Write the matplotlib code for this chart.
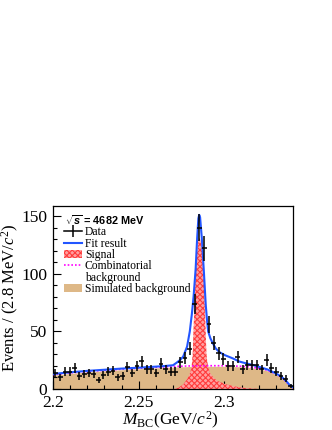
import numpy as np
import matplotlib
matplotlib.use('Agg')
import matplotlib.pyplot as plt
from matplotlib.lines import Line2D
from matplotlib.patches import Patch
from matplotlib.ticker import MultipleLocator

plt.rcParams['font.family'] = ['Liberation Serif', 'DejaVu Serif']
plt.rcParams['mathtext.fontset'] = 'custom'
plt.rcParams['mathtext.rm'] = 'Liberation Serif'
plt.rcParams['mathtext.it'] = 'Liberation Serif:italic'
plt.rcParams['mathtext.bf'] = 'Liberation Sans:bold'
plt.rcParams['mathtext.bfit'] = 'Liberation Sans:bold:italic'
plt.rcParams['hatch.linewidth'] = 0.8

# data: 50 bins of 2.8 MeV from 2.2 GeV
bin_width = 0.0028
counts = [14, 10, 15, 15, 18, 11, 13, 14, 13, 8, 12, 15, 16, 10, 11, 19, 14, 20, 24, 17,
          17, 14, 22, 17, 15, 15, 23, 27, 35, 74, 140, 122, 56, 40, 31, 26, 20, 20, 28, 17,
          21, 21, 21, 17, 25, 18, 15, 11, 9, 3]

# fit curves
fit_x = [2.200, 2.210, 2.220, 2.230, 2.240, 2.250, 2.260, 2.265, 2.270, 2.2721, 2.274,
         2.2759, 2.2782, 2.2798, 2.2810, 2.2820, 2.2832, 2.2841, 2.2848, 2.2853, 2.2858,
         2.2868, 2.2880, 2.2891, 2.2900, 2.2905, 2.2918, 2.2932, 2.2950, 2.2971, 2.3000,
         2.3048, 2.3087, 2.3120, 2.3160, 2.3200, 2.3250, 2.3300, 2.3330, 2.3360, 2.3380, 2.3400]
fit_y = [13.0, 14.5, 15.7, 16.7, 17.7, 18.5, 19.4, 19.9, 20.6, 22.8, 25.0,
         28.0, 36.7, 50.0, 65.0, 80.0, 104.0, 131.0, 148.0, 151.0, 149.0,
         131.0, 102.0, 73.0, 57.0, 50.0, 44.0, 39.7, 35.0, 32.0, 29.5,
         26.6, 23.8, 22.5, 21.0, 19.3, 17.0, 13.5, 11.0, 7.0, 3.5, 1.5]

sig_x = [2.2700, 2.2730, 2.2760, 2.2780, 2.2795, 2.2808, 2.2815, 2.2822, 2.2830, 2.2840,
         2.2848, 2.2855, 2.2862, 2.2870, 2.2880, 2.2888, 2.2895, 2.2903, 2.2915, 2.2935,
         2.2960, 2.3000, 2.3050, 2.3100, 2.3150, 2.3200]
sig_y = [0, 1, 4, 8, 12, 18, 30, 60, 92, 118, 128, 131, 128, 118, 92, 60, 30, 20, 14, 10,
         7, 4.5, 2.5, 1.2, 0.5, 0]

bkg_x = [2.200, 2.210, 2.220, 2.230, 2.240, 2.250, 2.260, 2.270, 2.280, 2.290, 2.300,
         2.310, 2.315, 2.320, 2.325, 2.330, 2.333, 2.336, 2.338, 2.340]
comb_y = [12.5, 14.0, 15.2, 16.2, 17.2, 18.0, 18.8, 19.5, 20.0, 20.2, 20.2,
          19.7, 19.1, 18.0, 16.3, 13.0, 10.5, 6.5, 3.0, 1.0]
sim_y = [12.0, 13.5, 14.7, 15.7, 16.7, 17.5, 18.3, 19.0, 19.5, 19.7, 19.7,
         19.2, 18.6, 17.5, 15.8, 12.5, 10.0, 6.0, 2.5, 0.5]

centers = 2.2 + bin_width * (np.arange(len(counts)) + 0.5)
counts = np.array(counts, dtype=float)

fig = plt.figure(figsize=(3.32, 4.3), dpi=100)
fig.patch.set_facecolor('white')
ax = fig.add_axes([53 / 332, 1 - 389 / 430, 240 / 332, 183 / 430])

sig_face, sig_hatch = '#ffa0a0', '#ff3c3c'
ax.fill_between(bkg_x, 0, sim_y, color='#deb887', linewidth=0, zorder=1)
ax.fill_between(sig_x, 0, sig_y, facecolor=sig_face, edgecolor=sig_hatch,
                hatch='xxxxxx', linewidth=0, zorder=2)
ax.plot(bkg_x, comb_y, color='#ff00ff', linestyle=(0, (1, 1.2)), linewidth=1.2, zorder=3)
ax.plot(fit_x, fit_y, color='#2255ff', linewidth=1.5, zorder=4)
ax.errorbar(centers, counts, xerr=bin_width / 2, yerr=np.sqrt(counts), fmt='none',
            ecolor='black', elinewidth=1.1, capsize=0, zorder=5)

ax.set_xlim(2.2, 2.34)
ax.set_ylim(0, 158.7)
ax.xaxis.set_major_locator(MultipleLocator(0.05))
ax.xaxis.set_minor_locator(MultipleLocator(0.01))
ax.yaxis.set_major_locator(MultipleLocator(50))
ax.yaxis.set_minor_locator(MultipleLocator(10))
ax.set_xticks([2.2, 2.25, 2.3])
ax.set_xticklabels(['2.2', '2.25', '2.3'])
ax.tick_params(which='both', direction='in', labelsize=12.5, width=0.8)
ax.tick_params(which='major', length=6, pad=4)
ax.tick_params(which='minor', length=3)
for s in ax.spines.values():
    s.set_linewidth(0.9)

ax.set_ylabel(r'Events / (2.8 MeV/$c^2$)', fontsize=12)
ax.yaxis.set_label_coords(-0.135, 0.5)
ax.set_xlabel(r'$M_{\rm BC}$(GeV/$c^2$)', fontsize=12.5)
ax.xaxis.set_label_coords(0.49, -0.112)

ax.text(0.05, 0.92, r'$\sqrt{\mathbfit{s}}$ = 4682 MeV', transform=ax.transAxes,
        fontsize=7.8, fontweight='bold', family='Liberation Sans', va='center', ha='left')

handles = [
    Line2D([0], [0], color='black', linewidth=1.1, marker='|', markersize=8, markeredgewidth=1.1),
    Line2D([0], [0], color='#2255ff', linewidth=1.5),
    Patch(facecolor=sig_face, edgecolor=sig_hatch, hatch='xxxxxx', linewidth=0),
    Line2D([0], [0], color='#ff00ff', linestyle=(0, (1, 1.2)), linewidth=1.2),
    Line2D([0], [0], color='none'),
    Patch(facecolor='#deb887', linewidth=0),
]
labels = ['Data', 'Fit result', 'Signal', 'Combinatorial', 'background', 'Simulated background']
ax.legend(handles, labels, loc='upper left', bbox_to_anchor=(0.045, 0.89), frameon=False,
          fontsize=8.4, labelspacing=-0.05, handlelength=1.55, handleheight=0.6,
          handletextpad=0.25, borderpad=0, borderaxespad=0)

plt.savefig('out.png', dpi=100, facecolor='white')
plt.close()
